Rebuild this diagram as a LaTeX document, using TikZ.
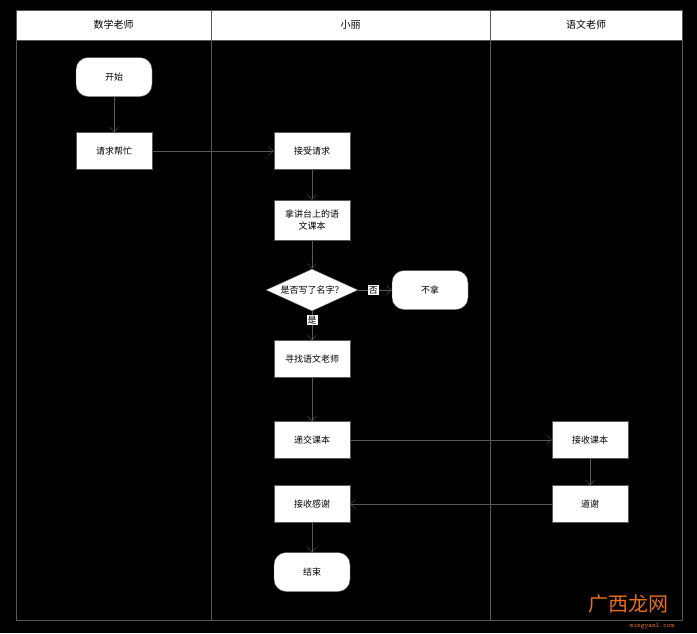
\documentclass[tikz,border=0pt]{standalone}
\usepackage{fontspec}
\setmainfont{Noto Sans CJK SC}
\usepackage{xcolor}
\usepackage{tikz}
\usetikzlibrary{shapes,arrows.meta,positioning}

\definecolor{lanegray}{gray}{0.35}
\definecolor{wmorange}{RGB}{230,110,30}
\tikzset{
  stepbox/.style={draw=lanegray, fill=white, minimum width=76pt, minimum height=37pt, align=center, font=\fontsize{9}{12}\selectfont, inner sep=2pt},
  termbox/.style={stepbox, rounded corners=12pt, minimum height=39pt},
  choice/.style={diamond, draw=lanegray, fill=white, aspect=2.1, inner sep=0pt, minimum width=92pt, minimum height=42pt, font=\fontsize{9}{11}\selectfont},
  flow/.style={draw=lanegray, -{Straight Barb[length=5pt,width=9pt]}},
  tag/.style={fill=white, inner sep=1pt, font=\fontsize{9}{11}\selectfont},
}

\begin{document}
\begin{tikzpicture}[x=1pt,y=-1pt]
    \fill[black] (0,0) rectangle (697,633);
    \useasboundingbox (0,0) rectangle (697,633);

    % Lanes
    \fill[white] (16,10) rectangle (682,40);
    \draw[lanegray] (16,10) rectangle (682,620);
    \draw[lanegray] (16,40) -- (682,40);
    \draw[lanegray] (211,10) -- (211,620);
    \draw[lanegray] (490,10) -- (490,620);
    \node[font=\fontsize{10}{12}\selectfont] (laneA) at (113.5,25) {数学老师};
    \node[font=\fontsize{10}{12}\selectfont] (laneB) at (350.5,25) {小丽};
    \node[font=\fontsize{10}{12}\selectfont] (laneC) at (586,25) {语文老师};

    % Steps
    \node[termbox] (start) at (114,77) {开始};
    \node[stepbox] (ask) at (114,151) {请求帮忙};
    \node[stepbox] (accept) at (312,151) {接受请求};
    \node[stepbox, minimum height=40pt] (fetch) at (312,220) {拿讲台上的语\\文课本};
    \node[choice] (named) at (312,290) {是否写了名字？};
    \node[termbox] (skip) at (430,290) {不拿};
    \node[stepbox] (seek) at (312,359) {寻找语文老师};
    \node[stepbox] (hand) at (312,440) {递交课本};
    \node[stepbox] (receive) at (590,440) {接收课本};
    \node[stepbox] (thank) at (590,504) {道谢};
    \node[stepbox] (thanked) at (312,504) {接收感谢};
    \node[termbox] (stop) at (312,572) {结束};

    % Flow
    \draw[flow] (start) -- (ask);
    \draw[flow] (ask) -- (accept);
    \draw[flow] (accept) -- (fetch);
    \draw[flow] (fetch) -- (named);
    \draw[flow] (named) -- node[tag, pos=0.45] (no) {否} (skip);
    \draw[flow] (named) -- node[tag, pos=0.3] (yes) {是} (seek);
    \draw[flow] (seek) -- (hand);
    \draw[flow] (hand) -- (receive);
    \draw[flow] (receive) -- (thank);
    \draw[flow] (thank) -- (thanked);
    \draw[flow] (thanked) -- (stop);

    % Watermark
    \node[wmorange, font=\fontsize{20}{22}\selectfont] (mark) at (628,604) {广西龙网};
    \node[wmorange, font=\fontsize{7}{8}\selectfont\ttfamily] (site) at (652,626) {mingyanl.com};
\end{tikzpicture}
\end{document}
